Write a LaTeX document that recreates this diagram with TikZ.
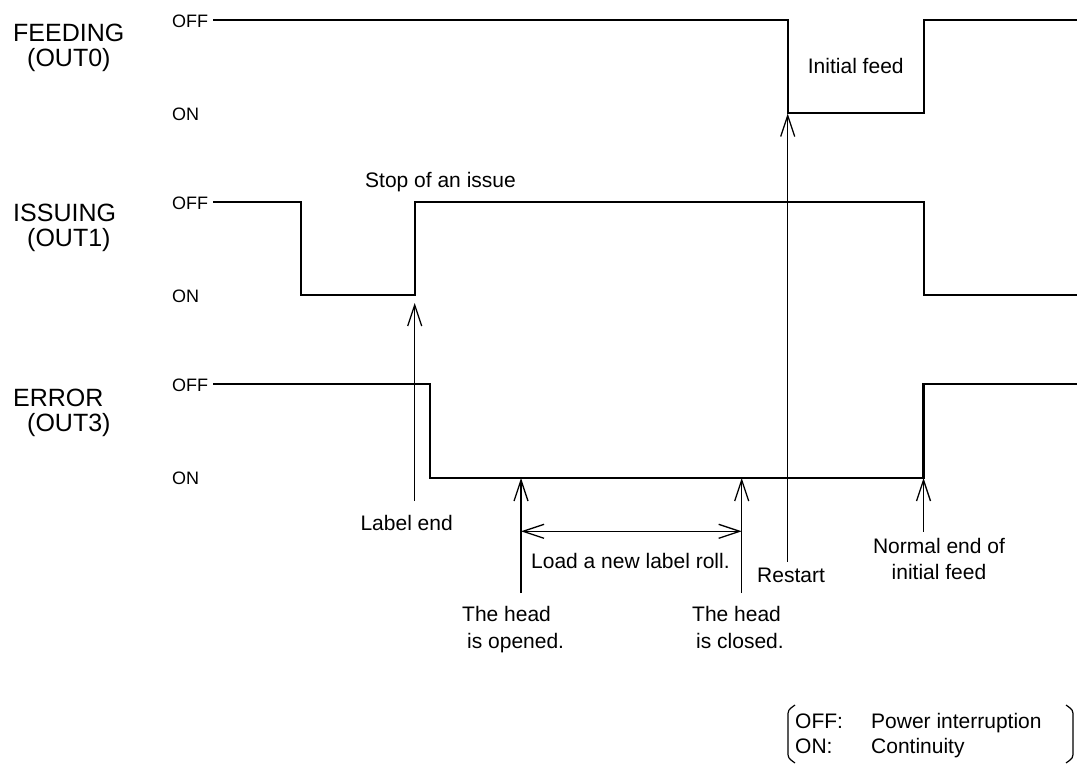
\documentclass[tikz,border=0pt]{standalone}
\usepackage{fontspec}
\setmainfont{Liberation Sans}
\usepackage{tikz}
\usetikzlibrary{arrows.meta, positioning}

\begin{document}
\begin{tikzpicture}[
    x=1pt, y=-1pt,
    every node/.style={font=\fontsize{21}{26}\selectfont, inner sep=0pt},
    wave/.style={line width=2.2pt},
    pointer/.style={line width=1.3pt, -{Straight Barb[length=21pt, width=14pt]}},
    span/.style={line width=1.3pt, {Straight Barb[length=21pt, width=14pt]}-{Straight Barb[length=21pt, width=14pt]}},
    signame/.style={anchor=base west, font=\fontsize{25}{25}\selectfont},
    level/.style={anchor=west, font=\fontsize{18}{22}\selectfont},
    note/.style={anchor=base west}
]
\useasboundingbox (0,0) rectangle (1084,765);

\foreach \n/\o/\y in {FEEDING/0/41.7, ISSUING/1/221.7, ERROR/3/406} {
  \node[signame] (sig\o) at (13,\y) {\n};
  \node[signame] (out\o) at (27,\y+25) {(OUT\o)};
}
\foreach \y/\t [count=\i] in {20/OFF, 113/ON, 202/OFF, 295.3/ON, 384.3/OFF, 477.7/ON}
  \node[level] (lvl\i) at (172,\y+1) {\t};

\draw[wave] (213,20) -- (787.7,20) -- (787.7,113) -- (924,113) -- (924,20) -- (1077,20);
\draw[wave] (213,202) -- (300.7,202) -- (300.7,295.3) -- (414.7,295.3) -- (414.7,202)
  -- (924,202) -- (924,295.3) -- (1077,295.3);
\draw[wave] (213,384.3) -- (429.7,384.3) -- (429.7,477.7) -- (923.5,477.7) -- (923.5,384.3) -- (1077,384.3);

\node[note] (feed) at (807.7,74) {Initial feed};
\node[note] (stop) at (365,187.7) {Stop of an issue};
\node[note, anchor=base east] (labelend) at (453,530) {Label end};
\node[note] (load) at (531,568.3) {Load a new label roll.};
\node[note] (openA) at (462,621.7) {The head};
\node[note] (openB) at (467,648.3) {is opened.};
\node[note] (closeA) at (692,621.7) {The head};
\node[note] (closeB) at (696,648.3) {is closed.};
\node[note] (restart) at (757,582.7) {Restart};
\node[note, anchor=base] (normalA) at (939,553.3) {Normal end of};
\node[note, anchor=base] (normalB) at (939,579.3) {initial feed};

\coordinate (stopTail) at (414.7,501);
\coordinate (stopTip) at (414.7,303);
\coordinate (openTail) at (521,593);
\coordinate (openTip) at (521,478);
\coordinate (closeTail) at (741.7,593);
\coordinate (closeTip) at (741.7,478);
\coordinate (loadL) at (521,531.3);
\coordinate (loadR) at (741.7,531.3);
\coordinate (restartTail) at (787.7,561.7);
\coordinate (restartTip) at (787.7,113.5);
\coordinate (normalTail) at (923.5,531.7);
\coordinate (normalTip) at (923.5,478);

\draw[pointer] (stopTail) -- (stopTip);
\draw[pointer] (openTail) -- (openTip);
\draw[pointer] (closeTail) -- (closeTip);
\draw[span] (loadL) -- (loadR);
\draw[pointer] (restartTail) -- (restartTip);
\draw[pointer] (normalTail) -- (normalTip);

\node[note] (offkey) at (795,728.5) {OFF:};
\node[note] (onkey) at (795,753.5) {ON:};
\node[note] (offtxt) at (871,728.5) {Power interruption};
\node[note] (ontxt) at (871,753.5) {Continuity};
\draw[line width=1.2pt] (795,705) .. controls (788,710) .. (788,717) -- (788,751) .. controls (788,758) .. (795,763);
\draw[line width=1.2pt] (1066,705) .. controls (1073,710) .. (1073,717) -- (1073,751) .. controls (1073,758) .. (1066,763);
\end{tikzpicture}
\end{document}
